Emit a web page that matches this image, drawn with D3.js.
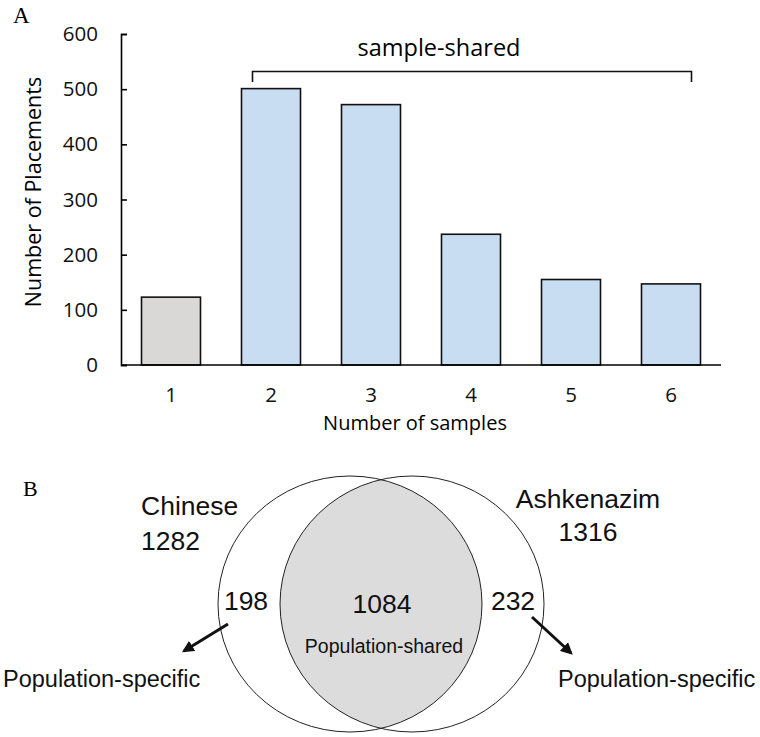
<!DOCTYPE html>
<html lang="en">
<head>
<meta charset="UTF-8">
<title>Placements</title>
<script src="https://d3js.org/d3.v7.min.js"></script>
<style>
    body { margin: 0; background: #fff; }
</style>
</head>
<body>
<script>
    // panel A data
    let sampleCounts = ["1", "2", "3", "4", "5", "6"];
    let placements = [123, 501, 472, 237, 155, 147];
    let yTicks = [0, 100, 200, 300, 400, 500, 600];
    let barColors = ["#d9d8d7", "#c8ddf1", "#c8ddf1", "#c8ddf1", "#c8ddf1", "#c8ddf1"];

    // panel B data
    let populations = ["Chinese", "Ashkenazim"];
    let populationTotals = [1282, 1316];
    let populationSpecific = [198, 232];
    let populationShared = 1084;

    let svg = d3.select("body").append("svg")
        .attr("width", 760)
        .attr("height", 737);

    let fontA = "'Open Sans', sans-serif";
    let fontB = "'Liberation Sans', Arial, sans-serif";

    // ---------- A ----------
    svg.append("text").attr("x", 13).attr("y", 23)
        .style("font-family", "'Liberation Serif', serif").style("font-size", "23px")
        .text("A");

    let x = d3.scaleBand().domain(sampleCounts).range([121, 721])
        .paddingInner(0.41).paddingOuter(0.205);
    let y = d3.scaleLinear().domain([0, 600]).range([365, 34]);

    let yAxis = svg.append("g").attr("transform", "translate(121,0)")
        .call(d3.axisLeft(y).tickValues(yTicks).tickSize(-6).tickPadding(23));
    yAxis.select(".domain").attr("stroke", "#000").attr("stroke-width", 1.6);
    yAxis.selectAll(".tick line").attr("stroke-width", 1.6);
    yAxis.selectAll(".tick text")
        .style("font-family", fontA).style("font-size", "20.5px").attr("fill", "#111");

    svg.selectAll(".bar").data(placements).enter().append("rect")
        .attr("class", "bar")
        .attr("x", (d, i) => x(sampleCounts[i]))
        .attr("y", d => y(d))
        .attr("width", x.bandwidth())
        .attr("height", d => y(0) - y(d))
        .attr("fill", (d, i) => barColors[i])
        .attr("stroke", "#111")
        .attr("stroke-width", 1.6);

    let xAxis = svg.append("g").attr("transform", "translate(0,365)")
        .call(d3.axisBottom(x).tickSize(0));
    xAxis.select(".domain").attr("d", "M121,0H721").attr("stroke", "#000").attr("stroke-width", 1.6);
    xAxis.selectAll(".tick text")
        .attr("dy", null).attr("y", 37)
        .style("font-family", fontA).style("font-size", "20.5px").attr("fill", "#111");

    svg.append("text")
        .attr("x", 415).attr("y", 430)
        .attr("text-anchor", "middle")
        .style("font-family", fontA).style("font-size", "20px")
        .text("Number of samples");

    svg.append("text")
        .attr("transform", "translate(41,192) rotate(-90)")
        .attr("text-anchor", "middle")
        .style("font-family", fontA).style("font-size", "21.5px")
        .text("Number of Placements");

    // bracket over shared bars
    let bx0 = x("2") + 11, bx1 = x("6") + x.bandwidth() - 9;
    svg.append("path")
        .attr("d", `M${bx0},82V71.5H${bx1}V82`)
        .attr("fill", "none").attr("stroke", "#111").attr("stroke-width", 1.6);
    svg.append("text")
        .attr("x", 439).attr("y", 56)
        .attr("text-anchor", "middle")
        .style("font-family", fontA).style("font-size", "23.5px")
        .text("sample-shared");

    // ---------- B ----------
    svg.append("text").attr("x", 23).attr("y", 496)
        .style("font-family", "'Liberation Serif', serif").style("font-size", "22px")
        .text("B");

    let cy = 604, rx = 132, ry = 128;
    let cxs = [350, 412];

    let defs = svg.append("defs");
    defs.append("clipPath").attr("id", "leftClip")
        .append("ellipse").attr("cx", cxs[0]).attr("cy", cy).attr("rx", rx).attr("ry", ry);

    svg.append("ellipse")
        .attr("cx", cxs[1]).attr("cy", cy).attr("rx", rx).attr("ry", ry)
        .attr("fill", "#dcdcdc").attr("clip-path", "url(#leftClip)");

    svg.selectAll(".venn").data(cxs).enter().append("ellipse")
        .attr("class", "venn")
        .attr("cx", d => d).attr("cy", cy).attr("rx", rx).attr("ry", ry)
        .attr("fill", "none").attr("stroke", "#222").attr("stroke-width", 1);

    function vText(t, px, py, size, anchor) {
        svg.append("text").attr("x", px).attr("y", py)
            .attr("text-anchor", anchor || "start")
            .style("font-family", fontB).style("font-size", size + "px")
            .attr("fill", "#111")
            .text(t);
    }

    vText(populations[0], 141, 515, 26.5);
    vText(populationTotals[0], 141, 550, 26.5);
    vText(populations[1], 588, 508, 26.5, "middle");
    vText(populationTotals[1], 588, 541, 26.5, "middle");
    vText(populationSpecific[0], 246, 610, 26.5, "middle");
    vText(populationSpecific[1], 513, 610, 26.5, "middle");
    vText(populationShared, 382, 613, 26.5, "middle");
    vText("Population-shared", 384, 653, 19.5, "middle");
    vText("Population-specific", 3, 687, 23.5);
    vText("Population-specific", 558, 687, 23.5);

    defs.append("marker").attr("id", "arrow")
        .attr("viewBox", "0 0 10 10").attr("refX", 8).attr("refY", 5)
        .attr("markerWidth", 4).attr("markerHeight", 4)
        .attr("orient", "auto")
        .append("path").attr("d", "M0,0L10,5L0,10z").attr("fill", "#111");

    let arrows = [[228, 624, 184, 651], [532, 617, 571, 653]];
    svg.selectAll(".arrow").data(arrows).enter().append("line")
        .attr("x1", d => d[0]).attr("y1", d => d[1])
        .attr("x2", d => d[2]).attr("y2", d => d[3])
        .attr("stroke", "#111").attr("stroke-width", 3)
        .attr("marker-end", "url(#arrow)");
</script>
</body>
</html>
